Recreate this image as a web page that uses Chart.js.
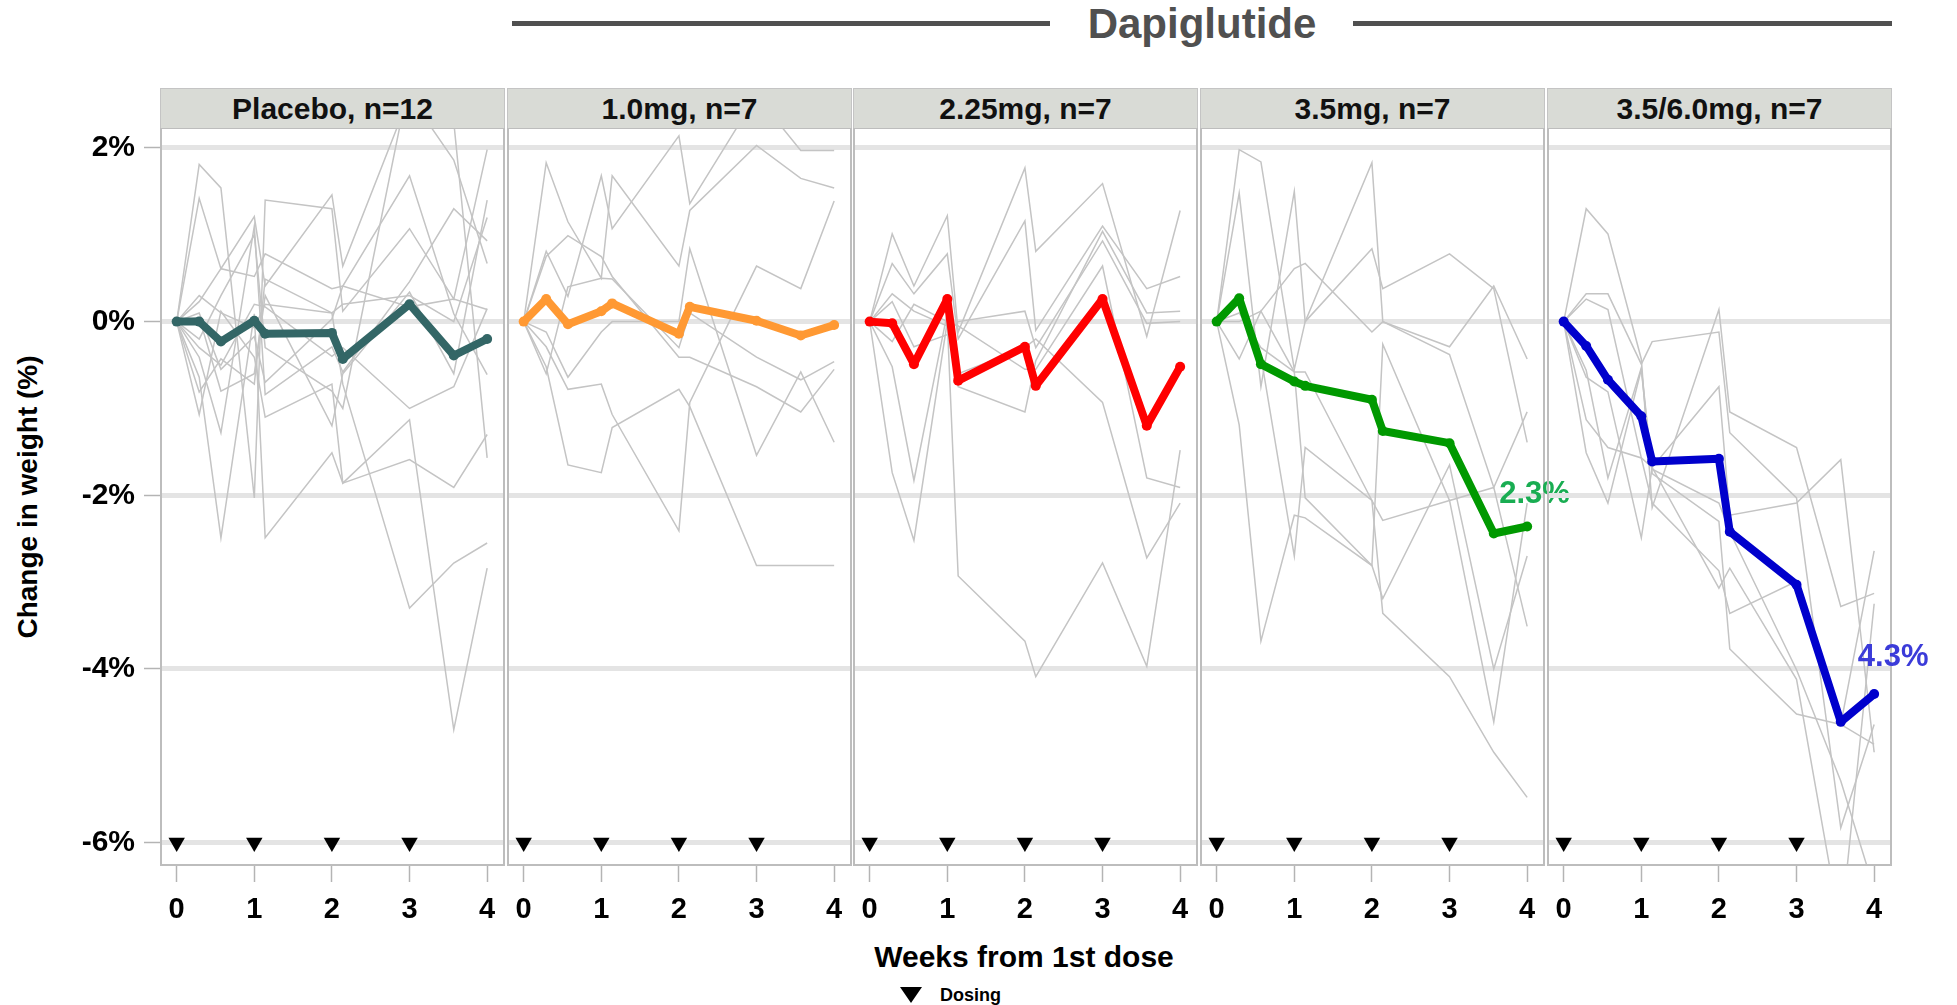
<!DOCTYPE html>
<html>
<head>
<meta charset="utf-8">
<script src="https://cdn.jsdelivr.net/npm/chart.js@4.4.1/dist/chart.umd.min.js"></script>
<style>
  body { margin: 0; background: #fff; }
  #wrap { position: relative; width: 1957px; height: 1005px; overflow: hidden;
          font-family: 'Liberation Sans', Arial, sans-serif; font-weight: bold; }
  #wrap canvas { position: absolute; top: 128px; }
  .abs { position: absolute; white-space: nowrap; }
  .strip { position: absolute; top: 88px; height: 40px; width: 345px; box-sizing: border-box;
           background: #d9dbd6; border: 1px solid #c4c4c4; border-bottom: none;
           text-align: center; font-size: 30px; line-height: 40px; color: #111; }
  .rule { position: absolute; top: 21px; height: 5px; background: #505050; }
</style>
</head>
<body>
<div id="wrap">
  <div class="rule" style="left:512px; width:538px"></div>
  <div class="rule" style="left:1353px; width:539px"></div>
  <div class="abs" style="left:1002px; width:400px; top:3px; text-align:center; font-size:42px; line-height:42px; color:#505050">Dapiglutide</div>
  <div class="abs" style="left:-122px; width:300px; top:480px; text-align:center; font-size:28px; line-height:34px; color:#000; transform:rotate(-90deg)">Change in weight (%)</div>
  <div class="abs" style="left:824px; width:400px; top:940px; text-align:center; font-size:30px; line-height:34px; color:#000">Weeks from 1st dose</div>
  <div class="abs" style="left:900px; top:987px; width:0; height:0; border-left:11px solid transparent; border-right:11px solid transparent; border-top:16px solid #000"></div>
  <div class="abs" style="left:940px; top:984px; font-size:18px; line-height:22px; color:#000">Dosing</div>
</div>
<script>
// measurement times (weeks from 1st dose)
const weeks = [0, 0.29, 0.57, 1, 1.14, 2, 2.14, 3, 3.57, 4];
const xTicks = [0, 1, 2, 3, 4];
const yTicks = [2, 0, -2, -4, -6];
const dosingWeeks = [0, 1, 2, 3];
const dosingLevel = -6;

const panelTitles = ['Placebo, n=12', '1.0mg, n=7', '2.25mg, n=7', '3.5mg, n=7', '3.5/6.0mg, n=7'];
const meanColors = ['#336666', '#ff9933', '#ff0000', '#009900', '#0000cc'];

// group means (% change)
const meanPlacebo = [0, 0, -0.23, 0.01, -0.14, -0.13, -0.43, 0.20, -0.39, -0.20];
const mean10 = [0, 0.26, -0.03, 0.12, 0.21, -0.14, 0.17, 0.01, -0.16, -0.04];
const mean225 = [0, -0.02, -0.49, 0.26, -0.68, -0.29, -0.74, 0.26, -1.20, -0.52];
const mean35 = [0, 0.27, -0.49, -0.69, -0.74, -0.90, -1.26, -1.40, -2.44, -2.36];
const mean356 = [0, -0.28, -0.67, -1.09, -1.61, -1.58, -2.42, -3.03, -4.61, -4.29];

// individual subjects
const subjPlacebo = [
  [0, 1.81, 1.54, -2.03, 1.40, 1.30, 0.12, 1.07, 0.26, 1.98],
  [0, 1.42, 0.61, 1.21, 0.41, 1.46, 0.64, 2.60, 1.86, 0.67],
  [0, 0.23, 0.61, 0.52, 0.78, 0.38, 0.41, 0.17, 0.26, 0.14],
  [0, -0.41, -1.28, 1.10, -0.84, -0.29, -0.58, 0.46, 1.30, 0.93],
  [0, -0.64, -2.49, 0.09, -2.49, -1.51, -1.86, -1.59, -1.91, -1.30],
  [0, -0.81, -0.43, -0.72, 0.49, 0.10, -0.72, -3.30, -2.78, -2.55],
  [0, -1.07, 0.12, -0.41, -1.10, -0.72, -1.86, -1.13, -4.70, -2.84],
  [0, 0.10, -0.55, -0.17, -0.70, 0.03, 0.41, 1.68, 0.09, -0.61],
  [0, -0.20, 0.30, 1.00, -0.30, -0.80, -1.00, 2.80, 2.30, -1.57],
  [0, 0.05, -0.80, -0.60, 0.30, -1.20, -0.60, 0.34, -0.60, 1.40],
  [0, -0.30, -0.50, 0.20, 0.17, -0.40, -0.30, -1.00, -0.75, 0.15],
  [0, 0.30, 0.10, -0.07, 0.20, 0.10, 0.20, 0.30, 0.00, 1.20]
];
const subj10 = [
  [0, 1.83, 1.15, 0.50, 1.68, 0.64, 1.28, 2.03, 1.65, 1.54],
  [0, 0.81, 0.29, 1.68, 1.07, 2.14, 1.36, 2.60, 1.97, 1.97],
  [0, 0.75, 0.99, 0.75, 0.52, -0.41, -0.41, -0.75, -1.04, -0.55],
  [0, -0.12, -0.64, -0.12, 0.00, 0.00, 0.84, -1.54, -0.58, -1.39],
  [0, -0.29, -0.78, -0.72, -1.07, -2.41, -0.93, 0.64, 0.38, 1.39],
  [0, -0.52, -1.65, -1.74, -1.22, -0.78, -0.98, -2.81, -2.81, -2.81],
  [0, -0.60, 0.40, 0.50, 0.49, -0.30, 0.10, -0.41, -0.67, -0.46]
];
const subj225 = [
  [0, 1.01, 0.41, 1.22, -0.12, 1.77, 0.81, 1.59, -0.17, 1.28],
  [0, 0.67, 0.32, 0.78, -0.20, 1.16, -0.10, 1.10, 0.38, 0.52],
  [0, 0.32, 0.12, -0.05, -0.75, -1.04, -0.45, 1.04, 0.10, 0.12],
  [0, 0.23, -0.29, -0.15, 0.00, 0.12, -0.30, 0.93, -0.02, 0.00],
  [0, -0.23, 0.20, 0.00, -2.93, -3.68, -4.09, -2.78, -3.97, -1.48],
  [0, -1.74, -2.52, 0.00, -0.05, -0.55, -0.55, 0.64, -1.80, -1.91],
  [0, -0.52, -1.83, 0.10, -0.60, -0.30, -0.20, -0.93, -2.72, -2.09]
];
const subj35 = [
  [0, 1.98, 1.84, -0.55, 0.00, 1.83, 0.00, -0.29, 0.41, -0.43],
  [0, 1.48, -0.75, 1.50, 0.00, 0.84, 0.38, 0.78, 0.38, -1.39],
  [0, 0.00, 0.12, 0.61, 0.67, -0.12, 0.00, -0.38, -1.91, -1.04],
  [0, -0.43, 0.12, -0.58, -0.58, -2.06, -2.29, -2.06, -4.61, -2.09],
  [0, -1.19, -3.68, -2.23, -2.26, -2.81, -3.19, -1.65, -4.00, -2.70],
  [0, 0.25, -0.40, -2.70, -1.45, -2.06, -3.36, -4.09, -4.96, -5.48],
  [0, 0.10, -0.30, -0.58, -2.03, -2.81, -0.26, -2.06, -1.91, -3.51]
];
const subj356 = [
  [0, 1.30, 1.01, -0.43, -2.14, 0.14, -1.04, -1.45, -3.28, -3.13],
  [0, 0.32, 0.32, -0.49, -0.23, -0.12, -1.28, -2.03, -5.83, -4.64],
  [0, 0.26, 0.14, -1.57, -1.68, -0.75, -2.23, -2.09, -1.59, -4.96],
  [0, -0.64, -0.81, -2.49, -1.68, -3.07, -2.84, -4.12, -7.00, -3.25],
  [0, -1.13, -1.45, -1.57, -2.09, -2.87, -3.36, -2.99, -4.64, -2.64],
  [0, -1.51, -2.09, -0.55, -1.75, -2.30, -3.77, -4.52, -4.64, -4.87],
  [0, -0.56, -1.80, -0.53, -1.70, -2.09, -2.42, -4.01, -5.29, -6.54]
];

const means = [meanPlacebo, mean10, mean225, mean35, mean356];
const subjects = [subjPlacebo, subj10, subj225, subj35, subj356];

// final-week labels
const endLabels = [null, null, null,
  { text: '2.3%', x: 3.64, y: -1.97, color: '#19ad52' },
  { text: '4.3%', x: 3.79, y: -3.85, color: '#3b3bd9' }];

const panelLeft = [160, 507, 853, 1200, 1547];
const panelWidth = 345;
const yAxisWidth = 160;
const font = 'Liberation Sans, Arial, sans-serif';

const frame = {
  id: 'frame',
  afterDraw(chart) {
    const a = chart.chartArea, ctx = chart.ctx;
    ctx.save();
    ctx.strokeStyle = '#bdbdbd';
    ctx.lineWidth = 2;
    ctx.strokeRect(a.left + 1, a.top, a.width - 2, a.height - 1);
    ctx.restore();
  }
};

const pts = vals => vals.map((v, j) => ({ x: weeks[j], y: v }));
const wrap = document.getElementById('wrap');

panelTitles.forEach((title, i) => {
  const strip = document.createElement('div');
  strip.className = 'strip';
  strip.style.left = panelLeft[i] + 'px';
  strip.textContent = title;
  wrap.appendChild(strip);

  const first = i === 0;
  const canvas = document.createElement('canvas');
  const left = first ? panelLeft[i] - yAxisWidth : panelLeft[i];
  canvas.width = first ? panelWidth + yAxisWidth : panelWidth;
  canvas.height = 800;
  canvas.style.left = left + 'px';
  wrap.appendChild(canvas);

  const datasets = [{
    type: 'scatter',
    data: dosingWeeks.map(w => ({ x: w, y: dosingLevel })),
    pointStyle: 'triangle',
    rotation: 180,
    pointRadius: 9.5,
    backgroundColor: '#000',
    borderWidth: 0,
    order: 0
  }, {
    data: pts(means[i]),
    borderColor: meanColors[i],
    backgroundColor: meanColors[i],
    borderWidth: 8,
    borderJoinStyle: 'round',
    borderCapStyle: 'round',
    pointRadius: 5,
    pointBorderWidth: 0,
    order: 1
  }];
  subjects[i].forEach(s => datasets.push({
    data: pts(s),
    borderColor: '#c4c4c4',
    borderWidth: 1.5,
    pointRadius: 0,
    order: 2
  }));

  const chart = new Chart(canvas.getContext('2d'), {
    type: 'line',
    data: { datasets },
    plugins: [frame],
    options: {
      responsive: false,
      animation: false,
      devicePixelRatio: 1,
      layout: { padding: 0, autoPadding: false },
      plugins: { legend: { display: false }, tooltip: { enabled: false } },
      scales: {
        x: {
          type: 'linear',
          min: -0.215,
          max: 4.23,
          afterBuildTicks: s => { s.ticks = xTicks.map(v => ({ value: v })); },
          afterFit: s => { s.height = 62; s.paddingLeft = 0; s.paddingRight = 0; },
          border: { display: false },
          grid: { drawOnChartArea: false, tickLength: 16, tickColor: '#b4b4b4', tickWidth: 1.5 },
          ticks: { color: '#000', padding: 11, maxRotation: 0, font: { family: font, size: 29, weight: 'bold' } }
        },
        y: {
          min: -6.27,
          max: 2.23,
          afterBuildTicks: s => { s.ticks = yTicks.map(v => ({ value: v })); },
          afterFit: s => { s.width = first ? yAxisWidth : 0; s.paddingTop = 0; s.paddingBottom = 0; },
          border: { display: false },
          grid: { color: '#e4e4e4', lineWidth: 5, drawTicks: first, tickLength: 16, tickColor: '#b4b4b4', tickWidth: 1.5 },
          ticks: {
            display: first,
            color: '#000',
            padding: 9,
            callback: v => v + '%',
            font: { family: font, size: 30, weight: 'bold' }
          }
        }
      }
    }
  });

  const lab = endLabels[i];
  if (lab) {
    const d = document.createElement('div');
    d.className = 'abs';
    d.style.fontSize = '31px';
    d.style.lineHeight = '32px';
    d.style.color = lab.color;
    d.style.left = (left + chart.scales.x.getPixelForValue(lab.x)) + 'px';
    d.style.top = (128 + chart.scales.y.getPixelForValue(lab.y) - 16) + 'px';
    d.textContent = lab.text;
    wrap.appendChild(d);
  }
});
</script>
</body>
</html>
